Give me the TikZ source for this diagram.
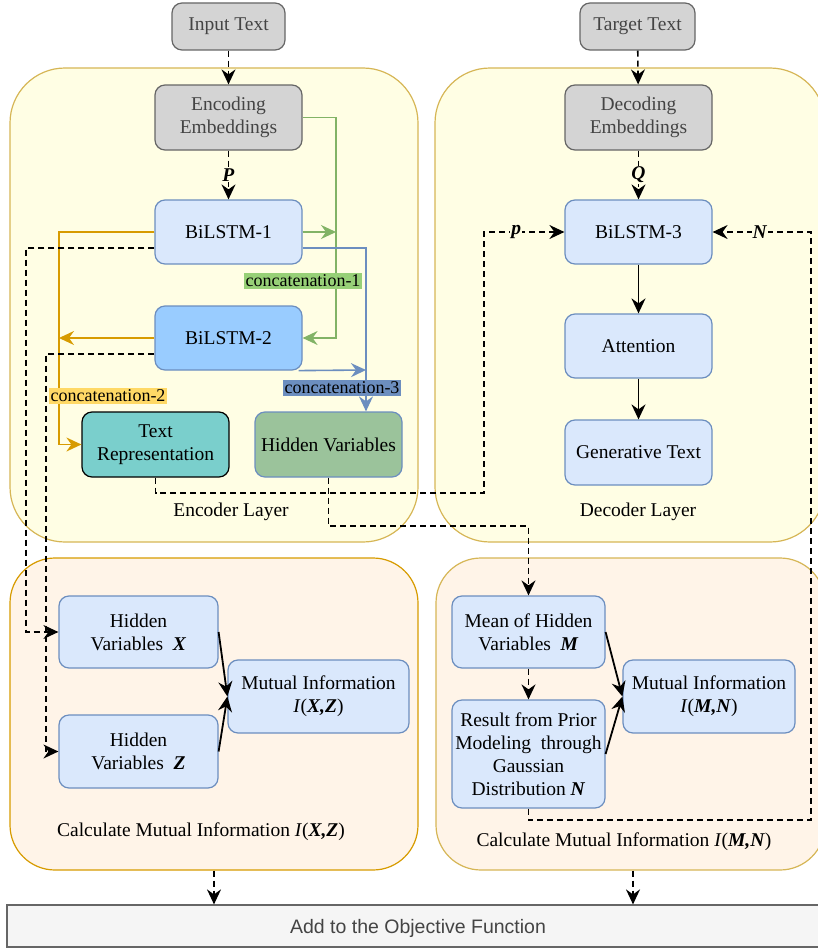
\documentclass[tikz,border=0pt]{standalone}
\usepackage{fontspec}
\setmainfont{Liberation Serif}
\newfontfamily\barfont{Liberation Sans}
\usetikzlibrary{arrows.meta,calc}

\definecolor{layerfill}{HTML}{FFFEE4}
\definecolor{layerline}{HTML}{D6B656}
\definecolor{mifill}{HTML}{FFF4E8}
\definecolor{miline}{HTML}{D79B00}
\definecolor{grayfill}{HTML}{D4D4D4}
\definecolor{grayline}{HTML}{666666}
\definecolor{graytext}{HTML}{444444}
\definecolor{bluefill}{HTML}{DAE8FC}
\definecolor{blueline}{HTML}{6C8EBF}
\definecolor{lstmfill}{HTML}{99CCFF}
\definecolor{tealfill}{HTML}{7ACFCC}
\definecolor{hidfill}{HTML}{9BC39B}
\definecolor{greenline}{HTML}{82B366}
\definecolor{greenlabel}{HTML}{97D077}
\definecolor{orangelabel}{HTML}{FFD966}
\definecolor{barfill}{HTML}{F5F5F5}

\newcommand{\bivar}[1]{\textbf{\textit{#1}}}

\begin{document}
\begin{tikzpicture}[x=1pt, y=-1pt,
  font=\fontsize{19.5}{23}\selectfont,
  tip/.style={-{Stealth[length=15pt, width=14pt, inset=5pt]}},
  layer/.style={draw=layerline, fill=layerfill, line width=1.2pt, rounded corners=55pt},
  miarea/.style={draw=miline, fill=mifill, line width=1.2pt, rounded corners=45pt},
  box/.style={draw=blueline, fill=bluefill, line width=1.2pt, rounded corners=10pt,
    align=center, inner sep=2pt, minimum width=147pt, minimum height=64pt},
  graybox/.style={box, draw=grayline, fill=grayfill, text=graytext},
  dasharrow/.style={tip, line width=1.6pt, dash pattern=on 6pt off 4pt},
  link/.style={tip, line width=1.8pt},
  catlabel/.style={inner sep=1.5pt, font=\fontsize{18}{20}\selectfont}
]
  \useasboundingbox (0,0) rectangle (818,950);
  \clip (0,0) rectangle (818,950);

  % layers
  \node[layer, minimum width=408pt, minimum height=474pt] (enc) at (214,305) {};
  \node[layer, minimum width=390pt, minimum height=474pt] (dec) at (630,305) {};
  \node[miarea, minimum width=408pt, minimum height=312pt] (mil) at (214,714) {};
  \node[miarea, draw=layerline, minimum width=389pt, minimum height=312pt] (mir) at (630.5,714) {};

  \node (enclabel) at (231,512) {Encoder Layer};
  \node (declabel) at (638,512) {Decoder Layer};
  \node (millabel) at (201,832) {Calculate Mutual Information \textit{I}(\bivar{X,Z})};
  \node (mirlabel) at (624,842) {Calculate Mutual Information \textit{I}(\bivar{M,N})};

  % encoder
  \node[graybox, minimum width=113pt, minimum height=47pt] (input) at (228.5,26.5) {Input Text};
  \node[graybox, minimum height=65pt] (encemb) at (228.5,117.5) {Encoding\\Embeddings};
  \node[box] (bilstm1) at (228.5,232) {BiLSTM-1};
  \node[box, fill=lstmfill] (bilstm2) at (228.5,338) {BiLSTM-2};
  \node[box, draw=black, fill=tealfill, minimum height=65pt] (textrep) at (155.5,444.5) {Text\\Representation};
  \node[box, fill=hidfill, minimum height=65pt] (hidvar) at (328.5,444.5) {Hidden Variables};

  % decoder
  \node[graybox, minimum width=115pt, minimum height=47pt] (target) at (637.5,26.5) {Target Text};
  \node[graybox, minimum height=65pt] (decemb) at (638.5,117.5) {Decoding\\Embeddings};
  \node[box] (bilstm3) at (638.5,232) {BiLSTM-3};
  \node[box] (attn) at (638.5,346) {Attention};
  \node[box, minimum height=65pt] (gentext) at (638.5,452.5) {Generative Text};

  % mutual information
  \node[box, minimum width=159pt, minimum height=72pt] (hidx) at (138.5,632) {Hidden\\Variables~~\bivar{X}};
  \node[box, minimum width=159pt, minimum height=73pt] (hidz) at (138.5,751.5) {Hidden\\Variables~~\bivar{Z}};
  \node[box, minimum width=181pt, minimum height=73pt] (mixz) at (318.5,696.5) {Mutual Information\\\textit{I}(\bivar{X,Z})};
  \node[box, minimum width=153pt, minimum height=72pt] (meanm) at (528.5,632) {Mean of Hidden\\Variables~~\bivar{M}};
  \node[box, minimum width=153pt, minimum height=108pt] (resn) at (528.5,754) {Result from Prior\\Modeling~~through\\Gaussian\\Distribution \bivar{N}};
  \node[box, minimum width=172pt, minimum height=73pt] (mimn) at (709,696.5) {Mutual Information\\\textit{I}(\bivar{M,N})};

  \node[draw=grayline, fill=barfill, line width=1.2pt, minimum width=822pt, minimum height=42pt,
    text=graytext, text depth=0pt, font=\barfont\fontsize{19.5}{23}\selectfont] (objective) at (418,926) {Add to the Objective Function};

  \coordinate (g1) at (336,232);
  \coordinate (b2) at (366,370);
  \coordinate (o1) at (59,338);
  \coordinate (xin) at (26,632);
  \coordinate (zin) at (46,751.5);
  \coordinate (pc) at (484,493);
  \coordinate (hv) at (528.5,526);
  \coordinate (nc) at (811,820);

  % main flow
  \draw[dasharrow] (input) -- (encemb);
  \draw[dasharrow] (target) -- (decemb);
  \draw[dasharrow] (encemb) -- node[fill=layerfill, inner sep=1pt] {\bivar{P}} (bilstm1);
  \draw[dasharrow] (decemb) -- node[fill=layerfill, inner sep=1pt] {\bivar{Q}} (bilstm3);
  \draw[link] (bilstm3) -- (attn);
  \draw[link] (attn) -- (gentext);

  % concatenations
  \draw[tip, greenline, line width=1.6pt] (encemb.east) -| (g1) |- (bilstm2.east);
  \draw[tip, greenline, line width=1.6pt] (bilstm1.east) -- (g1);
  \draw[tip, miline, line width=1.6pt] (bilstm1.west) -| (o1) |- (textrep.west);
  \draw[tip, miline, line width=1.6pt] (bilstm2.west) -- (o1);
  \draw[tip, blueline, line width=1.6pt] ([yshift=-16pt]bilstm1.east) -| ([xshift=37.5pt]hidvar.north);
  \draw[tip, blueline, line width=1.6pt] ([xshift=-4pt]bilstm2.south east) -- (b2);

  \node[catlabel, fill=greenlabel] (cat1) at (303,281) {concatenation-1};
  \node[catlabel, fill=orangelabel] (cat2) at (108,396) {concatenation-2};
  \node[catlabel, fill=blueline] (cat3) at (342,388) {concatenation-3};

  % hidden variable paths
  \draw[dasharrow] ([yshift=-16pt]bilstm1.west) -| (xin) -- (hidx.west);
  \draw[dasharrow] ([yshift=-16pt]bilstm2.west) -| (zin) -- (hidz.west);
  \draw[dasharrow] (textrep.south) |- (pc) |- node[pos=0.7, fill=layerfill, inner sep=1pt] {\bivar{p}} (bilstm3.west);
  \draw[dasharrow] (hidvar.south) |- (hv) -- (meanm.north);
  \draw[dasharrow] (resn.south) |- (nc) |- node[pos=0.76, fill=layerfill, inner sep=1pt] {\bivar{N}} (bilstm3.east);
  \draw[dasharrow] (meanm) -- (resn);

  \draw[link] (hidx.east) -- (mixz.west);
  \draw[link] (hidz.east) -- (mixz.west);
  \draw[link] (meanm.east) -- (mimn.west);
  \draw[link] (resn.east) -- (mimn.west);

  \draw[dasharrow] (mil.south) -- (mil.south |- objective.north);
  \draw[dasharrow] ([xshift=2.5pt]mir.south) -- ([xshift=2.5pt]mir.south |- objective.north);
\end{tikzpicture}
\end{document}
